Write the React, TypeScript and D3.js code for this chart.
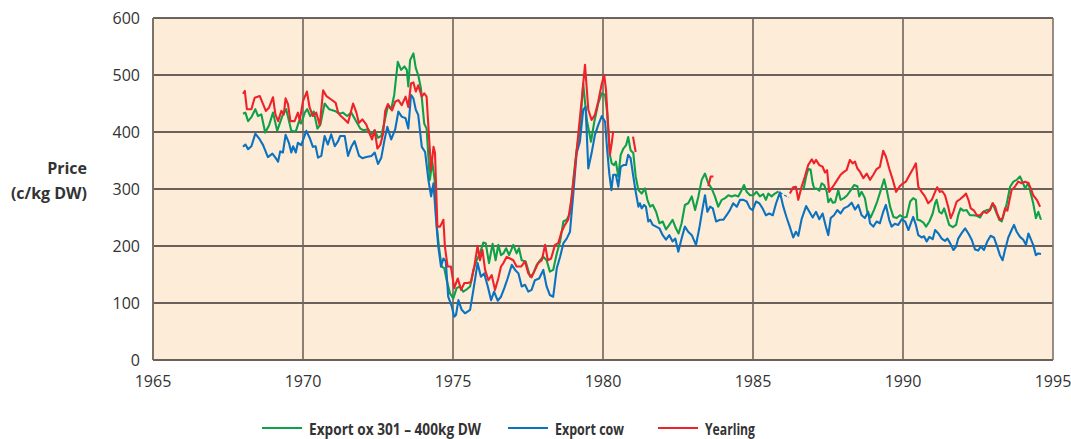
import React from "react";
import * as d3 from "d3";

type Pt = [number, number | null];

const xTicks = [1965, 1970, 1975, 1980, 1985, 1990, 1995];
const yTicks = [0, 100, 200, 300, 400, 500, 600];

const exportOx: Pt[] = [
  [1968.0, 432], [1968.08, 434], [1968.17, 419], [1968.28, 426], [1968.41, 440], [1968.5, 428], [1968.61, 431], [1968.74, 399], [1968.87, 412],
  [1969.0, 434], [1969.14, 402], [1969.31, 428], [1969.44, 440], [1969.61, 402], [1969.76, 401], [1969.87, 419], [1969.94, 415],
  [1970.06, 434], [1970.14, 440], [1970.24, 428], [1970.36, 436], [1970.48, 406], [1970.58, 413], [1970.72, 450], [1970.87, 440],
  [1971.06, 437], [1971.22, 432], [1971.33, 434], [1971.47, 428], [1971.61, 434], [1971.78, 418], [1971.91, 406],
  [1972.02, 403], [1972.17, 405], [1972.28, 396], [1972.39, 403], [1972.5, 390], [1972.61, 393], [1972.72, 419], [1972.83, 446], [1972.94, 440],
  [1973.04, 465], [1973.16, 523], [1973.27, 509], [1973.38, 515], [1973.46, 509], [1973.51, 480], [1973.57, 526], [1973.68, 538], [1973.76, 512], [1973.84, 500], [1973.93, 477],
  [1974.04, 415], [1974.12, 406], [1974.23, 316], [1974.31, 348], [1974.4, 310], [1974.46, 234], [1974.53, 199], [1974.62, 164], [1974.71, 161], [1974.79, 140], [1974.9, 117],
  [1975.01, 108], [1975.12, 126], [1975.23, 129], [1975.34, 120], [1975.46, 124], [1975.57, 129], [1975.68, 158], [1975.79, 175], [1975.9, 187],
  [1976.01, 206], [1976.09, 205], [1976.2, 170], [1976.32, 204], [1976.42, 175], [1976.51, 202], [1976.6, 184], [1976.68, 187], [1976.77, 196], [1976.87, 184],
  [1977.01, 202], [1977.12, 187], [1977.2, 196], [1977.29, 175], [1977.42, 173], [1977.57, 146], [1977.68, 152], [1977.79, 167], [1977.9, 175],
  [1978.01, 181], [1978.12, 175], [1978.23, 155], [1978.34, 158], [1978.46, 187], [1978.57, 208], [1978.68, 243], [1978.79, 246], [1978.9, 257],
  [1979.01, 316], [1979.12, 368], [1979.23, 404], [1979.34, 485], [1979.46, 421], [1979.6, 383], [1979.71, 418], [1979.84, 450], [1979.96, 468],
  [1980.07, 465], [1980.14, 433], [1980.23, 360], [1980.29, 345], [1980.37, 342], [1980.43, 348], [1980.51, 322], [1980.59, 360], [1980.68, 371], [1980.77, 377], [1980.84, 391], [1980.92, 368],
  [1981.01, 363], [1981.09, 322], [1981.18, 298], [1981.29, 292], [1981.4, 301], [1981.48, 281], [1981.57, 269], [1981.66, 272], [1981.77, 260], [1981.88, 240], [1981.99, 243],
  [1982.1, 229], [1982.21, 237], [1982.32, 246], [1982.43, 231], [1982.52, 222], [1982.62, 240], [1982.73, 272], [1982.84, 275], [1982.96, 287],
  [1983.07, 263], [1983.18, 287], [1983.29, 316], [1983.4, 327], [1983.51, 310], [1983.62, 301], [1983.73, 287], [1983.84, 269], [1983.96, 281],
  [1984.07, 284], [1984.18, 289], [1984.29, 287], [1984.4, 289], [1984.51, 287], [1984.62, 298], [1984.7, 307], [1984.79, 295], [1984.9, 289],
  [1985.01, 289], [1985.12, 295], [1985.23, 287], [1985.34, 291], [1985.43, 281], [1985.51, 292], [1985.62, 287], [1985.73, 292], [1985.85, 296],
  [1986.2, null],
  [1986.68, 298], [1986.77, 322], [1986.84, 335], [1986.92, 334], [1986.99, 310],
  [1987.04, 301], [1987.12, 301], [1987.21, 297], [1987.29, 310], [1987.37, 307], [1987.46, 295], [1987.51, 277], [1987.59, 283], [1987.66, 276], [1987.74, 277], [1987.84, 298], [1987.92, 281],
  [1988.03, 284], [1988.14, 289], [1988.26, 298], [1988.37, 307], [1988.48, 305], [1988.54, 287], [1988.62, 295], [1988.73, 284], [1988.81, 260], [1988.92, 250],
  [1989.03, 263], [1989.14, 278], [1989.26, 298], [1989.37, 317], [1989.46, 298], [1989.57, 269], [1989.68, 251], [1989.79, 249], [1989.9, 254],
  [1990.01, 250], [1990.12, 251], [1990.24, 278], [1990.34, 284], [1990.43, 281], [1990.48, 246], [1990.57, 245], [1990.68, 241], [1990.77, 234], [1990.88, 243], [1990.99, 257],
  [1991.07, 275], [1991.12, 281], [1991.21, 260], [1991.29, 257], [1991.37, 266], [1991.46, 251], [1991.54, 237], [1991.66, 233], [1991.77, 237], [1991.84, 254], [1991.92, 266],
  [1992.01, 262], [1992.12, 263], [1992.23, 254], [1992.34, 254], [1992.46, 253], [1992.57, 250], [1992.68, 260], [1992.79, 263], [1992.9, 264], [1992.99, 275],
  [1993.1, 260], [1993.21, 246], [1993.29, 243], [1993.37, 257], [1993.46, 275], [1993.57, 304], [1993.68, 313], [1993.79, 316], [1993.9, 322], [1993.98, 313],
  [1994.07, 301], [1994.18, 311], [1994.26, 292], [1994.34, 275], [1994.43, 249], [1994.51, 260], [1994.6, 246],
];

const exportCow: Pt[] = [
  [1968.0, 374], [1968.08, 378], [1968.17, 370], [1968.28, 375], [1968.41, 397], [1968.56, 387], [1968.67, 377], [1968.83, 356], [1968.98, 362],
  [1969.08, 355], [1969.17, 348], [1969.24, 366], [1969.33, 364], [1969.42, 395], [1969.53, 381], [1969.61, 364], [1969.67, 375], [1969.76, 364], [1969.83, 381], [1969.94, 377],
  [1970.11, 402], [1970.22, 390], [1970.33, 374], [1970.42, 375], [1970.5, 355], [1970.61, 358], [1970.72, 393], [1970.83, 378], [1970.94, 396],
  [1971.06, 375], [1971.17, 384], [1971.24, 393], [1971.39, 393], [1971.5, 358], [1971.61, 374], [1971.72, 384], [1971.87, 358], [1971.98, 354],
  [1972.11, 356], [1972.28, 358], [1972.39, 364], [1972.5, 344], [1972.61, 355], [1972.72, 387], [1972.81, 409], [1972.94, 387],
  [1973.07, 404], [1973.18, 436], [1973.29, 427], [1973.42, 424], [1973.51, 406], [1973.6, 465], [1973.68, 459], [1973.76, 439], [1973.84, 430], [1973.96, 374],
  [1974.07, 365], [1974.18, 316], [1974.27, 287], [1974.35, 310], [1974.42, 257], [1974.51, 199], [1974.6, 164], [1974.68, 178], [1974.76, 173], [1974.84, 111], [1974.96, 94],
  [1975.04, 76], [1975.1, 79], [1975.18, 105], [1975.29, 88], [1975.4, 82], [1975.57, 88], [1975.68, 123], [1975.82, 170], [1975.93, 146],
  [1976.04, 152], [1976.16, 129], [1976.27, 105], [1976.37, 120], [1976.49, 104], [1976.6, 111], [1976.71, 126], [1976.82, 143], [1976.96, 167],
  [1977.07, 158], [1977.18, 152], [1977.29, 129], [1977.4, 132], [1977.51, 120], [1977.62, 123], [1977.73, 140], [1977.87, 143],
  [1978.01, 158], [1978.12, 129], [1978.23, 114], [1978.34, 111], [1978.46, 161], [1978.57, 181], [1978.68, 205], [1978.79, 213], [1978.9, 225],
  [1979.01, 292], [1979.12, 363], [1979.23, 383], [1979.34, 439], [1979.42, 444], [1979.51, 336], [1979.62, 363], [1979.73, 395], [1979.84, 412], [1979.96, 428],
  [1980.07, 418], [1980.14, 368], [1980.21, 327], [1980.28, 298], [1980.34, 325], [1980.43, 325], [1980.51, 304], [1980.59, 339], [1980.68, 342], [1980.77, 342], [1980.84, 360], [1980.92, 354],
  [1981.01, 322], [1981.09, 295], [1981.18, 269], [1981.23, 275], [1981.29, 266], [1981.37, 272], [1981.43, 269], [1981.51, 243], [1981.57, 246], [1981.66, 237], [1981.77, 234], [1981.88, 231], [1981.99, 219],
  [1982.1, 211], [1982.21, 219], [1982.32, 208], [1982.41, 213], [1982.51, 190], [1982.62, 213], [1982.73, 234], [1982.84, 225], [1982.96, 219],
  [1983.1, 202], [1983.21, 231], [1983.32, 266], [1983.4, 289], [1983.48, 260], [1983.57, 269], [1983.66, 266], [1983.77, 243], [1983.9, 246],
  [1984.01, 246], [1984.12, 254], [1984.23, 263], [1984.34, 275], [1984.46, 269], [1984.57, 281], [1984.68, 281], [1984.79, 278], [1984.9, 266], [1984.99, 263],
  [1985.1, 278], [1985.21, 275], [1985.32, 266], [1985.43, 254], [1985.54, 257], [1985.66, 254], [1985.77, 275], [1985.9, 294],
  [1986.01, 269], [1986.12, 250], [1986.23, 233], [1986.34, 215], [1986.43, 225], [1986.51, 218], [1986.62, 247], [1986.77, 270], [1986.88, 260], [1986.99, 250],
  [1987.1, 260], [1987.21, 247], [1987.32, 257], [1987.43, 234], [1987.51, 219], [1987.59, 249], [1987.7, 254], [1987.81, 263], [1987.92, 257],
  [1988.03, 266], [1988.18, 270], [1988.29, 276], [1988.4, 264], [1988.51, 272], [1988.62, 254], [1988.73, 249], [1988.84, 260], [1988.9, 240],
  [1989.01, 234], [1989.12, 243], [1989.23, 240], [1989.34, 260], [1989.43, 272], [1989.54, 246], [1989.62, 234], [1989.73, 239], [1989.84, 237], [1989.96, 247],
  [1990.07, 243], [1990.18, 228], [1990.29, 244], [1990.34, 251], [1990.43, 237], [1990.51, 219], [1990.62, 215], [1990.7, 217], [1990.79, 208], [1990.88, 216], [1990.99, 212],
  [1991.07, 228], [1991.18, 222], [1991.29, 213], [1991.4, 209], [1991.48, 213], [1991.57, 205], [1991.68, 193], [1991.77, 199], [1991.84, 213], [1991.96, 223],
  [1992.07, 231], [1992.18, 222], [1992.29, 211], [1992.4, 194], [1992.51, 192], [1992.59, 199], [1992.7, 193], [1992.81, 208], [1992.92, 218],
  [1993.03, 215], [1993.14, 199], [1993.23, 184], [1993.32, 175], [1993.4, 193], [1993.51, 215], [1993.62, 228], [1993.7, 237], [1993.79, 225], [1993.9, 216],
  [1994.01, 211], [1994.1, 202], [1994.18, 222], [1994.26, 212], [1994.34, 202], [1994.43, 184], [1994.51, 187], [1994.6, 186],
];

const exportCowDashed: Pt[] = [[1985.9, 294], [1986.05, 289], [1986.2, 285]];

const yearling: Pt[] = [
  [1968.0, 467], [1968.06, 472], [1968.13, 440], [1968.28, 440], [1968.39, 460], [1968.56, 463], [1968.67, 449], [1968.76, 437], [1968.87, 443],
  [1969.0, 461], [1969.08, 431], [1969.17, 419], [1969.28, 437], [1969.36, 431], [1969.42, 459], [1969.5, 449], [1969.58, 419], [1969.72, 419], [1969.83, 434], [1969.89, 420],
  [1970.0, 454], [1970.13, 471], [1970.22, 443], [1970.33, 428], [1970.44, 434], [1970.56, 412], [1970.67, 473], [1970.78, 463], [1970.94, 457],
  [1971.09, 451], [1971.17, 434], [1971.26, 428], [1971.39, 422], [1971.5, 416], [1971.67, 450], [1971.78, 434], [1971.86, 416], [1971.98, 422],
  [1972.11, 413], [1972.22, 397], [1972.3, 387], [1972.39, 403], [1972.48, 371], [1972.58, 378], [1972.67, 397], [1972.74, 437], [1972.83, 449], [1972.97, 438],
  [1973.07, 453], [1973.18, 456], [1973.29, 447], [1973.42, 462], [1973.51, 444], [1973.6, 485], [1973.68, 487], [1973.76, 471], [1973.84, 482], [1973.96, 462],
  [1974.04, 468], [1974.12, 462], [1974.2, 392], [1974.27, 333], [1974.35, 374], [1974.4, 363], [1974.48, 234], [1974.57, 234], [1974.68, 246], [1974.73, 199], [1974.82, 164], [1974.93, 164],
  [1975.04, 126], [1975.16, 143], [1975.27, 123], [1975.38, 135], [1975.49, 135], [1975.6, 137], [1975.71, 164], [1975.82, 200], [1975.9, 175], [1975.98, 193],
  [1976.07, 158], [1976.18, 140], [1976.29, 149], [1976.4, 123], [1976.51, 143], [1976.6, 164], [1976.68, 170], [1976.79, 181], [1976.9, 178],
  [1977.01, 175], [1977.12, 164], [1977.27, 164], [1977.4, 173], [1977.51, 152], [1977.62, 145], [1977.73, 158], [1977.84, 170], [1977.96, 175],
  [1978.07, 202], [1978.16, 175], [1978.27, 178], [1978.4, 202], [1978.51, 205], [1978.62, 225], [1978.73, 237], [1978.84, 246], [1978.96, 287],
  [1979.07, 339], [1979.18, 398], [1979.29, 456], [1979.4, 518], [1979.51, 439], [1979.62, 421], [1979.73, 430], [1979.84, 453], [1979.96, 485],
  [1980.04, 500], [1980.1, 474], [1980.16, 421], [1980.23, 360], [1980.29, 380], [1980.34, 401],
  [1980.6, null],
  [1981.0, 392], [1981.09, 365],
  [1982.0, null],
  [1983.51, 305], [1983.59, 322], [1983.68, 322],
  [1985.0, null],
  [1986.23, 292], [1986.34, 303], [1986.43, 304], [1986.51, 281], [1986.62, 304], [1986.73, 322], [1986.84, 342], [1986.96, 352],
  [1987.03, 345], [1987.1, 351], [1987.21, 342], [1987.32, 339], [1987.4, 329], [1987.47, 333], [1987.54, 295], [1987.62, 301], [1987.7, 307], [1987.81, 316], [1987.92, 325],
  [1988.03, 330], [1988.12, 333], [1988.23, 351], [1988.32, 345], [1988.4, 348], [1988.48, 336], [1988.57, 330], [1988.68, 319], [1988.79, 327], [1988.9, 316],
  [1989.01, 325], [1989.12, 335], [1989.23, 339], [1989.34, 367], [1989.43, 357], [1989.54, 336], [1989.66, 316], [1989.77, 295], [1989.88, 304],
  [1990.0, 310], [1990.1, 313], [1990.23, 326], [1990.34, 336], [1990.43, 345], [1990.51, 304], [1990.62, 295], [1990.73, 287], [1990.84, 275], [1990.96, 281],
  [1991.07, 295], [1991.14, 303], [1991.23, 295], [1991.31, 296], [1991.4, 289], [1991.51, 268], [1991.59, 249], [1991.68, 260], [1991.79, 278], [1991.9, 282],
  [1992.01, 287], [1992.1, 292], [1992.18, 281], [1992.26, 266], [1992.37, 262], [1992.46, 254], [1992.57, 254], [1992.68, 260], [1992.79, 258], [1992.9, 263], [1992.99, 275],
  [1993.07, 269], [1993.14, 257], [1993.23, 246], [1993.32, 249], [1993.4, 266], [1993.48, 262], [1993.54, 278], [1993.62, 298], [1993.73, 304], [1993.84, 313], [1993.96, 310],
  [1994.07, 313], [1994.18, 310], [1994.26, 301], [1994.34, 289], [1994.46, 281], [1994.57, 269],
];

const legendLabels = ["Export ox 301 – 400kg DW", "Export cow", "Yearling"];
const legendColors = ["#0fa04a", "#0b72c0", "#ee2229"];

export default function App() {
  const W = 1071, H = 439;
  const x = d3.scaleLinear().domain([1965, 1995]).range([153, 1053]);
  const y = d3.scaleLinear().domain([0, 600]).range([360, 18]);
  const line = d3
    .line<Pt>()
    .defined((d) => d[1] !== null)
    .x((d) => x(d[0]))
    .y((d) => y(d[1] as number));

  const font = "'Open Sans', sans-serif";
  const textColor = "#333333";
  const legendX = [262, 508, 658];
  const legendW = [172, 69, 50];

  return (
    <svg width={W} height={H} style={{ position: "absolute", left: 0, top: 0 }} fontFamily={font}>
      <rect x={0} y={0} width={W} height={H} fill="#ffffff" />
      <rect x={x(1965)} y={y(600)} width={x(1995) - x(1965)} height={y(0) - y(600)} fill="#fdecd8" />
      {yTicks.map((t) => (
        <line key={"h" + t} x1={x(1965)} x2={x(1995)} y1={y(t)} y2={y(t)} stroke="#3a3330" strokeWidth={1.4} />
      ))}
      {xTicks.map((t) => (
        <line key={"v" + t} x1={x(t)} x2={x(t)} y1={y(600)} y2={y(0)} stroke={t === 1965 || t === 1995 ? "#7d7268" : "#6f655c"} strokeWidth={t === 1965 ? 2 : 1.6} />
      ))}
      <line x1={x(1965)} x2={x(1995)} y1={y(0)} y2={y(0)} stroke="#6b6158" strokeWidth={2} />

      <path d={line(exportOx) || ""} fill="none" stroke={legendColors[0]} strokeWidth={2.1} strokeLinejoin="round" />
      <path d={line(exportCow) || ""} fill="none" stroke={legendColors[1]} strokeWidth={2.1} strokeLinejoin="round" />
      <path d={line(exportCowDashed) || ""} fill="none" stroke={legendColors[1]} strokeWidth={1.2} strokeDasharray="3,2" />
      <path d={line(yearling) || ""} fill="none" stroke={legendColors[2]} strokeWidth={2.1} strokeLinejoin="round" />

      {yTicks.map((t) => (
        <text key={"yl" + t} x={140} y={y(t) + 5.5} textAnchor="end" fontSize={16} fill={textColor}>
          {t}
        </text>
      ))}
      {xTicks.map((t) => (
        <text key={"xl" + t} x={x(t)} y={387} textAnchor="middle" fontSize={16} fill={textColor}>
          {t}
        </text>
      ))}

      <text x={87} y={174} textAnchor="end" fontSize={16} fontWeight={700} fill={textColor}>Price</text>
      <text x={87} y={199} textAnchor="end" fontSize={16} fontWeight={700} fill={textColor}>(c/kg DW)</text>

      {legendLabels.map((label, i) => (
        <g key={label}>
          <line x1={legendX[i]} x2={legendX[i] + 40} y1={428} y2={428} stroke={legendColors[i]} strokeWidth={2} />
          <text
            x={legendX[i] + 47}
            y={435}
            fontSize={16.5}
            fontWeight={700}
            fill={textColor}
            textLength={legendW[i]}
            lengthAdjust="spacingAndGlyphs"
          >
            {label}
          </text>
        </g>
      ))}
    </svg>
  );
}
